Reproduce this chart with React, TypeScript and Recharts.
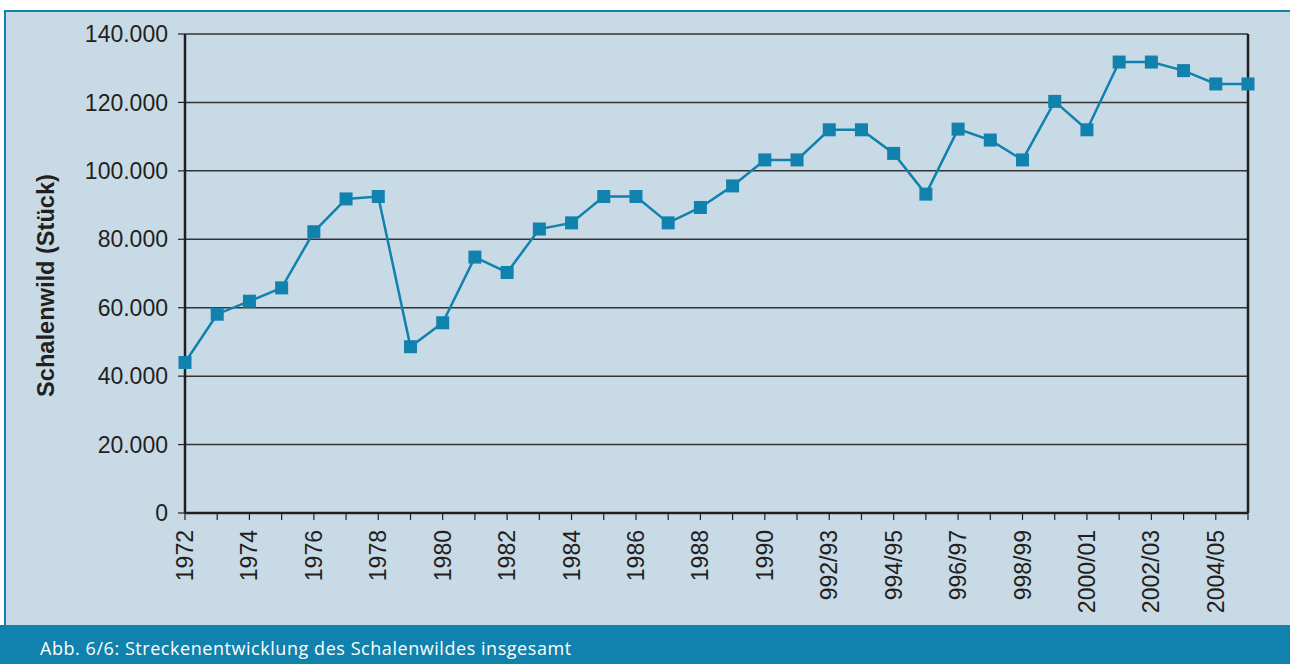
import React from 'react';
import { LineChart, Line, XAxis, YAxis, CartesianGrid, ReferenceLine } from 'recharts';

const categories = [
  '1972', '1973', '1974', '1975', '1976', '1977', '1978', '1979', '1980', '1981',
  '1982', '1983', '1984', '1985', '1986', '1987', '1988', '1989', '1990', '1991',
  '1992/93', '1993/94', '1994/95', '1995/96', '1996/97', '1997/98', '1998/99',
  '1999/2000', '2000/01', '2001/02', '2002/03', '2003/04', '2004/05', '2005/06',
];

const tickLabels = [
  '1972', '', '1974', '', '1976', '', '1978', '', '1980', '',
  '1982', '', '1984', '', '1986', '', '1988', '', '1990', '',
  '992/93', '', '994/95', '', '996/97', '', '998/99',
  '', '2000/01', '', '2002/03', '', '2004/05', '',
];

const schalenwild = [
  44000, 58100, 61900, 65800, 82200, 91800, 92500, 48600, 55600, 74800,
  70300, 83000, 84800, 92500, 92500, 84800, 89300, 95600, 103200, 103200,
  112000, 112000, 105100, 93200, 112200, 109000, 103200,
  120300, 112000, 131800, 131800, 129300, 125400, 125400,
];

const yTicks = [0, 20000, 40000, 60000, 80000, 100000, 120000, 140000];

const data = categories.map((c, i) => ({ cat: c, value: schalenwild[i] }));

const fmt = (v: number) => String(v).replace(/\B(?=(\d{3})+(?!\d))/g, '.');

const TEAL = '#1181ad';
const BG = '#c8dae6';
const DARK = '#231f20';
const FONT = '"Liberation Sans", Arial, Helvetica, sans-serif';

const XTick = (props: any) => {
  const { x, y, payload } = props;
  const idx = payload && payload.index != null ? payload.index : props.index;
  const label = tickLabels[idx];
  if (!label) return null;
  return (
    <text
      x={x}
      y={y}
      transform={`rotate(-90, ${x}, ${y})`}
      textAnchor="end"
      dominantBaseline="central"
      fill={DARK}
      fontSize={23}
      fontFamily={FONT}
    >
      {label}
    </text>
  );
};

const SquareDot = (props: any) => {
  const { cx, cy, index } = props;
  if (cx == null || cy == null) return null;
  return <rect key={`d${index}`} x={cx - 6.5} y={cy - 6.5} width={13} height={13} fill={TEAL} />;
};

const YLabel = (props: any) => {
  const vb = props.viewBox || { y: 34, height: 479 };
  const cy = vb.y + vb.height / 2 + 12;
  const x = 54;
  return (
    <text
      x={x}
      y={cy}
      transform={`rotate(-90, ${x}, ${cy})`}
      textAnchor="middle"
      fill={DARK}
      fontSize={23.6}
      fontWeight="bold"
      fontFamily={FONT}
    >
      Schalenwild (Stück)
    </text>
  );
};

export default function App() {
  return (
    <div style={{ position: 'absolute', left: 0, top: 0, width: 1290, height: 664, background: '#fff', overflow: 'hidden' }}>
      <div
        style={{
          position: 'absolute',
          left: 4,
          top: 10,
          width: 1286,
          height: 615,
          background: BG,
          borderLeft: `2px solid ${TEAL}`,
          borderTop: `2px solid ${TEAL}`,
          boxSizing: 'border-box',
        }}
      />
      <div style={{ position: 'absolute', left: 0, top: 625, width: 1290, height: 39, background: TEAL }} />
      <div
        style={{
          position: 'absolute',
          left: 40,
          top: 638,
          fontFamily: '"Open Sans", "Noto Sans", sans-serif',
          fontSize: 18,
          letterSpacing: '0.55px',
          lineHeight: '20px',
          color: '#ffffff',
          whiteSpace: 'nowrap',
        }}
      >
        Abb. 6/6: Streckenentwicklung des Schalenwildes insgesamt
      </div>
      <div style={{ position: 'absolute', left: 0, top: 0 }}>
        <LineChart width={1290} height={664} data={data} margin={{ top: 34, right: 42, bottom: 0, left: 0 }}>
          <CartesianGrid horizontal vertical={false} stroke="#333333" strokeWidth={1.5} />
          <XAxis
            dataKey="cat"
            scale="point"
            padding={{ left: 0, right: 0 }}
            interval={0}
            height={151}
            tickSize={7}
            tickMargin={10}
            tick={<XTick />}
            axisLine={{ stroke: DARK, strokeWidth: 2.5 }}
            tickLine={{ stroke: DARK, strokeWidth: 1.2 }}
          />
          <YAxis
            width={185}
            domain={[0, 140000]}
            ticks={yTicks}
            tickFormatter={fmt}
            tickSize={7}
            tickMargin={10}
            tick={{ fill: DARK, fontSize: 23, fontFamily: FONT }}
            axisLine={{ stroke: DARK, strokeWidth: 2.5 }}
            tickLine={{ stroke: DARK, strokeWidth: 1.2 }}
            label={<YLabel />}
          />
          <ReferenceLine x={categories[categories.length - 1]} stroke={DARK} strokeWidth={2.5} />
          <Line
            type="linear"
            dataKey="value"
            stroke={TEAL}
            strokeWidth={2.5}
            dot={<SquareDot />}
            activeDot={false}
            isAnimationActive={false}
          />
        </LineChart>
      </div>
    </div>
  );
}
